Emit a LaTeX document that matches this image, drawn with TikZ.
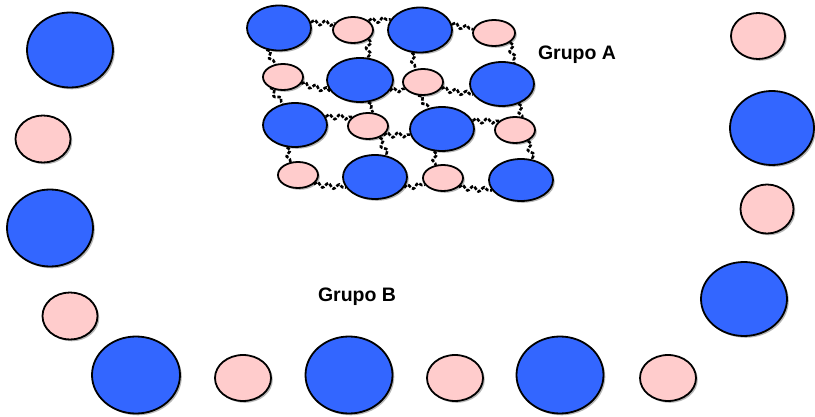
\documentclass[tikz,border=0pt]{standalone}
\usepackage{fontspec}
\setmainfont{Liberation Sans}
\usetikzlibrary{shapes.geometric,shadows,decorations.pathmorphing}
\definecolor{cblue}{RGB}{51,102,255}
\definecolor{cpink}{RGB}{255,204,204}
\tikzset{
  cell/.style={ellipse, draw=black, line width=1.8pt, inner sep=0pt,
    drop shadow={shadow xshift=1.8pt, shadow yshift=-1.8pt, fill=black!40, opacity=0.7}},
  bigb/.style={cell, fill=cblue, minimum width=86pt, minimum height=75pt},
  smp/.style={cell, fill=cpink, minimum width=55pt, minimum height=47pt},
  gb/.style={cell, fill=cblue, minimum width=64pt, minimum height=45pt},
  gp/.style={cell, fill=cpink, minimum width=40pt, minimum height=26pt},
  bond/.style={line width=2.6pt, dash pattern=on 3.5pt off 1.6pt,
    decorate, decoration={snake, amplitude=2.4pt, segment length=11pt}},
  lbl/.style={font=\bfseries\fontsize{19.5}{21}\selectfont, inner sep=0pt}
}
\begin{document}
\begin{tikzpicture}[x=1pt,y=-1pt]
\useasboundingbox (0,0) rectangle (815,417);
% outer ring
\node[bigb] (L1) at (70,50) {};
\node[smp]  (L2) at (43,139) {};
\node[bigb, minimum height=77pt] (L3) at (50,228) {};
\node[smp]  (L4) at (70,316) {};
\node[bigb, minimum width=88pt, minimum height=77pt] (O1) at (136,375) {};
\node[smp, minimum width=56pt, minimum height=46pt] (O2) at (243,378) {};
\node[bigb, minimum width=87pt, minimum height=77pt] (O3) at (349,375) {};
\node[smp, minimum width=56pt, minimum height=46pt] (O4) at (455,378) {};
\node[bigb, minimum width=87pt, minimum height=77pt] (O5) at (560,375) {};
\node[smp, minimum width=56pt, minimum height=46pt] (O6) at (668,378) {};
\node[bigb, minimum height=74pt] (R4) at (744,299) {};
\node[smp, minimum width=53pt, minimum height=49pt] (R3) at (767,209) {};
\node[bigb, minimum width=84pt, minimum height=74pt] (R2) at (772,128) {};
\node[smp, minimum width=54pt, minimum height=46pt] (R1) at (758,36) {};
% group A
\node[gb] (A1) at (279,28) {};
\node[gp] (A2) at (353,30) {};
\node[gb] (A3) at (420,30) {};
\node[gp, minimum width=42pt] (A4) at (494,33) {};
\node[gp] (B1) at (283,77) {};
\node[gb, minimum width=66pt, minimum height=44pt] (B2) at (360,80) {};
\node[gp] (B3) at (423,82) {};
\node[gb, minimum height=44pt] (B4) at (502,84) {};
\node[gb, minimum height=44pt] (C1) at (295,125) {};
\node[gp] (C2) at (368,126) {};
\node[gb, minimum height=44pt] (C3) at (442,129) {};
\node[gp] (C4) at (515,130) {};
\node[gp] (D1) at (298,175) {};
\node[gb, minimum height=44pt] (D2) at (375,177) {};
\node[gp] (D3) at (443,178) {};
\node[gb, minimum height=42pt] (D4) at (521,180) {};
% bonds
\draw[bond] (A1.10) -- (A2.160);
\draw[bond] (A2.-30) -- (B2.70);
\draw[bond] (A2.30) -- (A3.160);
\draw[bond] (A1.240) -- (B1.120);
\draw[bond] (B1.220) -- (C1.120);
\draw[bond] (B1.-20) -- (B2.200);
\draw[bond] (A3.250) -- (B3.120);
\draw[bond] (A3.10) -- (A4.170);
\draw[bond] (A4.-30) -- (B4.60);
\draw[bond] (B2.-20) -- (B3.200);
\draw[bond] (B3.-20) -- (B4.200);
\draw[bond] (B2.-70) -- (C2.70);
\draw[bond] (B3.250) -- (C3.120);
\draw[bond] (B4.-50) -- (C4.60);
\draw[bond] (C1.15) -- (C2.150);
\draw[bond] (C2.-30) -- (C3.190);
\draw[bond] (C3.15) -- (C4.150);
\draw[bond] (C2.-45) -- (D2.60);
\draw[bond] (C1.250) -- (D1.120);
\draw[bond] (C3.250) -- (D3.120);
\draw[bond] (C4.-40) -- (D4.60);
\draw[bond] (D1.-30) -- (D2.200);
\draw[bond] (D2.-20) -- (D3.200);
\draw[bond] (D3.-30) -- (D4.200);
% labels
\node[lbl] (ga) at (577,55) {Grupo A};
\node[lbl] (gbl) at (357,297) {Grupo B};
\end{tikzpicture}
\end{document}
